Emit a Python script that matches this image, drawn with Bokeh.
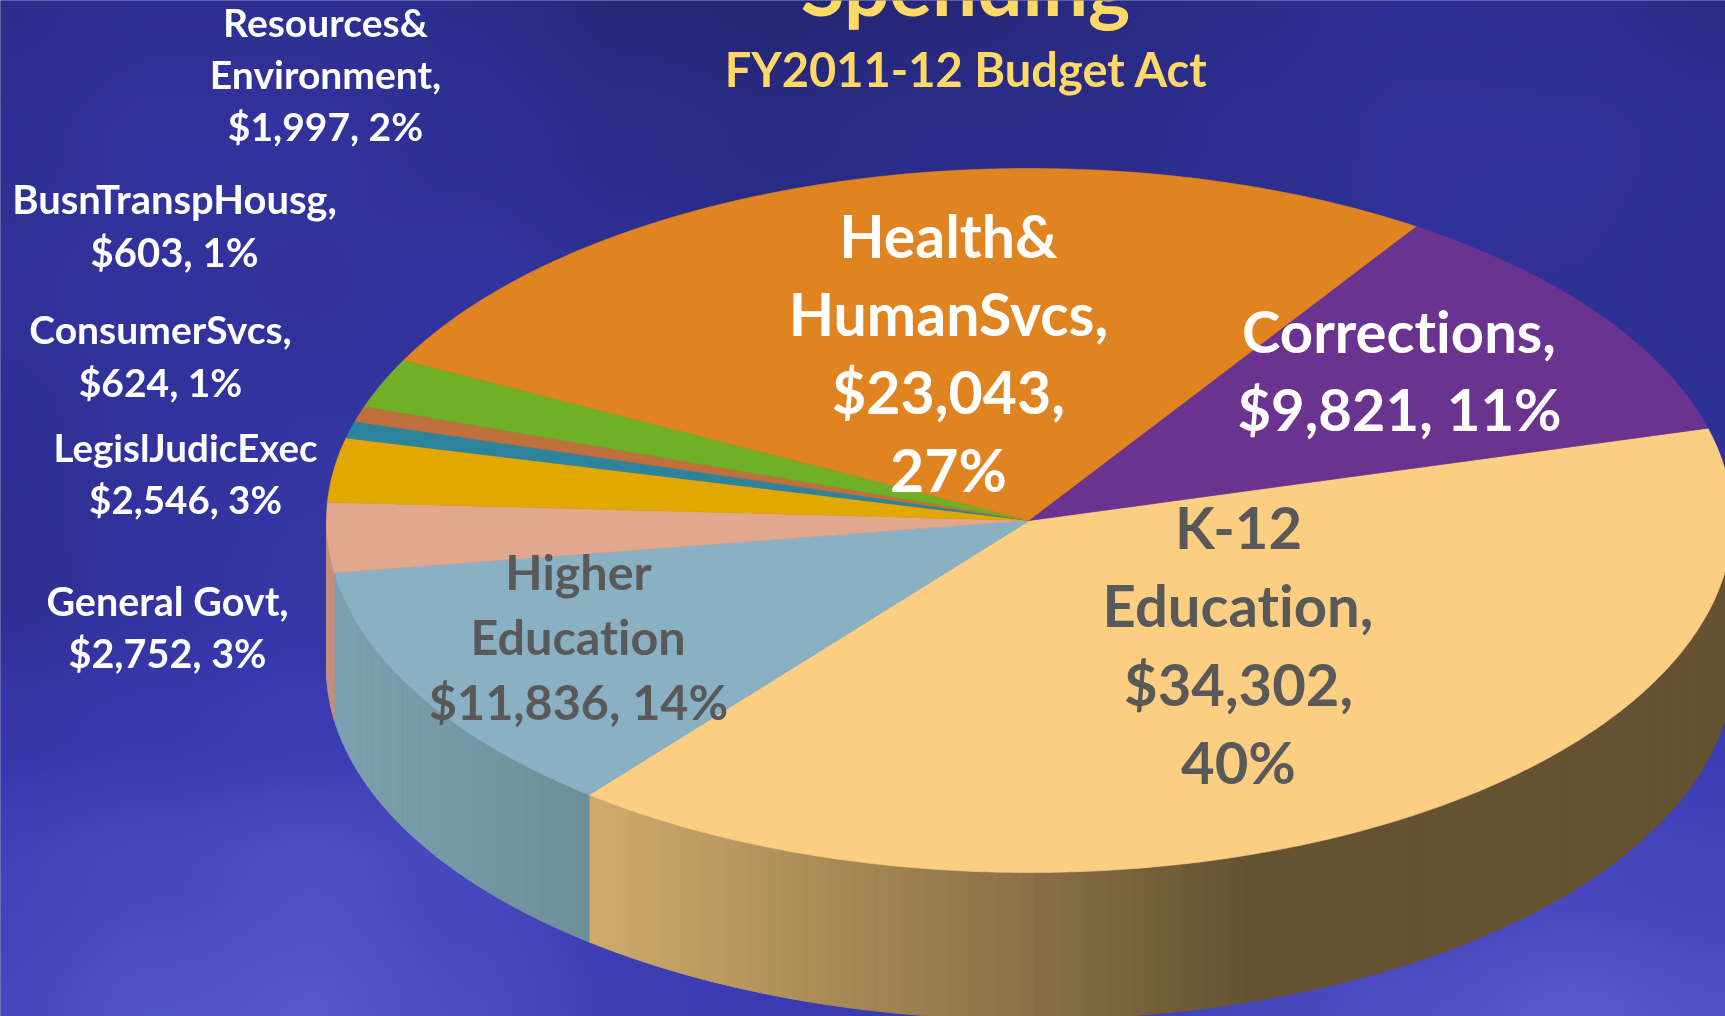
import math
import numpy as np
from bokeh.plotting import figure
from bokeh.models import Range1d
from bokeh.embed import file_html
from bokeh.resources import INLINE
from bokeh.core.properties import value

# ---------- data ----------
categories = ["K-12 Education", "Higher Education", "General Govt", "LegislJudicExec",
              "ConsumerSvcs", "BusnTranspHousg", "Resources&Environment",
              "Health&HumanSvcs", "Corrections"]
spending = [34302, 11836, 2752, 2546, 624, 603, 1997, 23043, 9821]
title_lines = ["Spending", "FY2011-12 Budget Act"]
label_lines = [
    ["K-12", "Education,", "$34,302,", "40%"],
    ["Higher", "Education", "$11,836, 14%"],
    ["General Govt,", "$2,752, 3%"],
    ["LegislJudicExec", "$2,546, 3%"],
    ["ConsumerSvcs,", "$624, 1%"],
    ["BusnTranspHousg,", "$603, 1%"],
    ["Resources&", "Environment,", "$1,997, 2%"],
    ["Health&", "HumanSvcs,", "$23,043,", "27%"],
    ["Corrections,", "$9,821, 11%"],
]

# ---------- styling and layout ----------
top_colors = ["#FBCE82", "#8AB1C3", "#E2A78F", "#E2A800", "#2B849B", "#C0703C",
              "#6FB025", "#E08421", "#6A3390"]
label_style = [  # centre x, first baseline, line step, font px, colour
    (1238, 547, 78.3, 58, "#595959"),
    (578, 588, 65, 48.5, "#595959"),
    (167, 614, 52, 39.5, "#FFFFFF"),
    (185, 460, 52, 38.5, "#FFFFFF"),
    (160, 343, 53, 39, "#FFFFFF"),
    (174, 213, 53, 40, "#FFFFFF"),
    (325, 36, 52, 39, "#FFFFFF"),
    (948, 256, 78, 59, "#FFFFFF"),
    (1399, 351, 78, 58, "#FFFFFF"),
]
BASELINE_SHIFT = 0.36  # em, the page's text sits this far below the asked baseline
W, H = 1725, 1016
CX, CY, RX, RY, DEPTH = 1029, 520, 703, 352, 147
START_DEG = 15.2
# the original 3-D view shifts slice edges a little from the true shares
view_warp_deg = [-2.9, 3.1, 2.9, 2.8, 2.6, 2.5, 2.5, 1.0, 0.0]

background_levels = [
    [.25, .30, .30, .25, .15, .12, .15, .20, .25, .30, .28, .22],
    [.30, .36, .36, .30, .24, .20, .24, .24, .28, .34, .34, .30],
    [.34, .36, .34, .38, .30, .28, .30, .30, .32, .34, .32, .28],
    [.30, .36, .40, .40, .38, .36, .36, .36, .36, .36, .34, .32],
    [.28, .38, .42, .44, .44, .44, .44, .44, .44, .44, .44, .44],
    [.44, .48, .52, .52, .52, .50, .50, .50, .50, .50, .52, .52],
    [.60, .68, .76, .66, .52, .50, .50, .50, .54, .60, .66, .62],
    [.66, .80, .84, .72, .56, .50, .50, .56, .66, .76, .86, .78],
]
bg_stops = np.array([[30, 32, 100], [58, 58, 178], [98, 100, 215]], dtype=float)


def background():
    grid = np.array(background_levels)
    step = 3
    ny, nx = H // step + 1, W // step + 1
    gy = np.linspace(0, grid.shape[0] - 1, ny)
    gx = np.linspace(0, grid.shape[1] - 1, nx)
    iy = np.minimum(gy.astype(int), grid.shape[0] - 2)
    ix = np.minimum(gx.astype(int), grid.shape[1] - 2)
    fy = gy - iy
    fx = gx - ix
    fy = fy * fy * (3 - 2 * fy)
    fx = fx * fx * (3 - 2 * fx)
    a = grid[iy][:, ix]
    b = grid[iy][:, ix + 1]
    c = grid[iy + 1][:, ix]
    d = grid[iy + 1][:, ix + 1]
    fx2 = fx[None, :]
    fy2 = fy[:, None]
    lv = (a * (1 - fx2) + b * fx2) * (1 - fy2) + (c * (1 - fx2) + d * fx2) * fy2
    rgb = np.empty(lv.shape + (3,))
    for k in range(3):
        rgb[..., k] = np.interp(lv, [0.0, 0.5, 1.0], bg_stops[:, k])
    img = np.empty(lv.shape, dtype=np.uint32)
    view = img.view(dtype=np.uint8).reshape(lv.shape + (4,))
    view[..., :3] = rgb.astype(np.uint8)
    view[..., 3] = 255
    return img


def lerp_hex(c0, c1, f):
    f = max(0.0, min(1.0, f))
    a = [int(c0[i:i + 2], 16) for i in (1, 3, 5)]
    b = [int(c1[i:i + 2], 16) for i in (1, 3, 5)]
    return "#%02x%02x%02x" % tuple(round(p + (q - p) * f) for p, q in zip(a, b))


def rim(t_deg):
    t = math.radians(t_deg)
    return CX + RX * math.cos(t), CY - RY * math.sin(t)


# slice edges, clockwise from START_DEG
total = sum(spending)
edges = [START_DEG]
run = 0.0
for v, w in zip(spending, view_warp_deg):
    run += v
    edges.append(START_DEG - run / total * 360.0 + w)


def side_color(i, x):
    if i == 0:
        return lerp_hex("#CFAB6B", "#655233", (x - 590) / 660)
    if i == 1:
        return lerp_hex("#7CA1B0", "#6D8F9B", (x - 333) / 257)
    return "#C3907E"


p = figure(width=W, height=H, x_range=Range1d(0, W), y_range=Range1d(H, 0),
           x_axis_type=None, y_axis_type=None, toolbar_location=None,
           output_backend="svg", min_border=0, outline_line_color=None,
           background_fill_color="#2B2E8A", border_fill_color="#2B2E8A",
           styles={"position": "fixed", "left": "0", "top": "0",
                   "font-variant-ligatures": "none"})
p.grid.visible = False
p.image_rgba(image=[background()], x=-4, y=-4, dw=W + 8, dh=H + 8)

# side wall: thin strips along the front of the rim
for i in range(len(spending)):
    a0, a1 = min(edges[i], 0.0), max(edges[i + 1], -180.0)
    if a0 <= a1:
        continue
    n = max(1, int(a0 - a1))
    xs, ys, cs = [], [], []
    for k in range(n):
        s0 = a0 - (a0 - a1) * k / n
        s1 = a0 - (a0 - a1) * (k + 1) / n
        ang = np.linspace(s0, s1, 5)
        top = [rim(a) for a in ang]
        px = [q[0] for q in top] + [q[0] for q in reversed(top)]
        py = [q[1] for q in top] + [q[1] + DEPTH for q in reversed(top)]
        xs.append(px)
        ys.append(py)
        cs.append(side_color(i, sum(px) / len(px)))
    p.patches(xs, ys, fill_color=cs, line_color=cs, line_width=1)

# top face
for i in range(len(spending)):
    n = max(4, int(abs(edges[i] - edges[i + 1]) * 2))
    pts = [rim(a) for a in np.linspace(edges[i], edges[i + 1], n)]
    px = [CX] + [q[0] for q in pts]
    py = [CY] + [q[1] for q in pts]
    p.patch(px, py, fill_color=top_colors[i], line_color=top_colors[i], line_width=0.6)

# data labels
for lines, (lx, ly, step, size, col) in zip(label_lines, label_style):
    p.text(x=[lx] * len(lines),
           y=[ly + step * k - BASELINE_SHIFT * size for k in range(len(lines))], text=lines,
           text_font=value("Lato"), text_font_style="bold", text_font_size=f"{size}px",
           text_color=col, text_align="center", text_baseline="alphabetic")

# titles
p.text(x=[965], y=[13 - BASELINE_SHIFT * 80], text=[title_lines[0]], text_font=value("Lato"),
       text_font_style="bold", text_font_size="80px", text_color="#FFD966",
       text_align="center", text_baseline="alphabetic")
p.text(x=[966], y=[85 - BASELINE_SHIFT * 47], text=[title_lines[1]], text_font=value("Lato"),
       text_font_style="bold", text_font_size="47px", text_color="#FFD966",
       text_align="center", text_baseline="alphabetic")

open("out.html", "w").write(file_html(p, INLINE))
